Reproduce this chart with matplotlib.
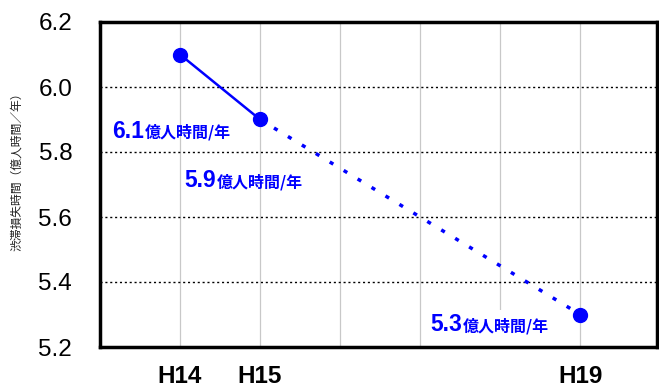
import matplotlib
matplotlib.use("Agg")
import matplotlib.pyplot as plt
from matplotlib.patches import Rectangle

# data
categories = ["H14", "H15", "H16", "H17", "H18", "H19"]
shown_labels = ["H14", "H15", "", "", "", "H19"]
actual_x = ["H14", "H15"]
actual_vals = [6.1, 5.9]
forecast_x = ["H15", "H19"]
forecast_vals = [5.9, 5.3]
point_x = ["H14", "H15", "H19"]
point_vals = [6.1, 5.9, 5.3]
ann_nums = ["6.1", "5.9", "5.3"]
unit = "億人時間/年"
ylabel = "渋滞損失時間（億人時間／年）"
yticks = [5.2, 5.4, 5.6, 5.8, 6.0, 6.2]

plt.rcParams['font.family'] = ['Liberation Sans', 'Noto Sans CJK JP', 'DejaVu Sans']
blue = "#0000FF"

fig = plt.figure(figsize=(6.59, 3.89), dpi=100)
ax = fig.add_axes([100/659, 42/389, 557/659, 325/389])

pos = {c: i + 1 for i, c in enumerate(categories)}

ax.set_xlim(0, 6.96)
ax.set_ylim(5.2, 6.2)

# grid
for c in categories:
    ax.axvline(pos[c], color="#c8c8c8", lw=0.9, zorder=1)
for v in yticks[1:-1]:
    ax.axhline(v, color="black", lw=1.0, ls=(0, (1.5, 2)), zorder=1)

ax.plot([pos[c] for c in actual_x], actual_vals, color=blue, lw=1.8, zorder=3)
ax.plot([pos[c] for c in forecast_x], forecast_vals, color=blue, lw=2.5,
        ls=(0, (1.2, 3.5)), zorder=3)
ax.plot([pos[c] for c in point_x], point_vals, 'o', color=blue, ms=10, zorder=4)

ax.set_xticks([pos[c] for c in categories])
ax.set_xticklabels(shown_labels, fontsize=17.5, fontweight='bold')
ax.tick_params(axis='x', length=0, pad=13)
ax.set_yticks(yticks)
ax.set_yticklabels([f"{v:.1f}" for v in yticks], fontsize=17.5)
ax.tick_params(axis='y', length=0, pad=20)

for s in ax.spines.values():
    s.set_linewidth(2.5)
    s.set_color("black")

fig.text(17/659, (389-169)/389, ylabel, rotation=90, fontsize=8.5, color="#222222",
         ha='center', va='center', family=['Noto Sans CJK JP', 'DejaVu Sans'])

# white box behind last label
ax.add_patch(Rectangle(((425-100)/557, 0), 133/557, 37/325, transform=ax.transAxes,
                       facecolor='white', edgecolor='none', zorder=2))

ann_pos = [((112-100)/557, (347-138)/325),
           ((184-100)/557, (347-187)/325),
           ((430-100)/557, (347-331)/325)]

fig.canvas.draw()
renderer = fig.canvas.get_renderer()
for num, (x, y) in zip(ann_nums, ann_pos):
    t = ax.text(x, y, num, transform=ax.transAxes, fontsize=16.5, fontweight='bold',
                color=blue, ha='left', va='baseline', zorder=5)
    bb = t.get_window_extent(renderer=renderer)
    xa, _ = ax.transAxes.inverted().transform((bb.x1 + 1, bb.y0))
    ax.text(xa, y, unit, transform=ax.transAxes, fontsize=11.5, fontweight='bold',
            color=blue, ha='left', va='baseline', zorder=5,
            family=['Noto Sans CJK JP', 'DejaVu Sans'])

fig.savefig("out.png", dpi=100)
